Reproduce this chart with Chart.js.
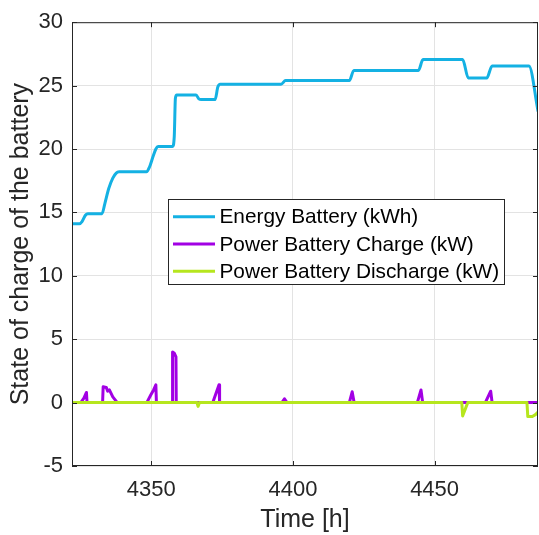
<!DOCTYPE html>
<html>
<head>
<meta charset="utf-8">
<title>Battery state of charge</title>
<script src="https://cdn.jsdelivr.net/npm/chart.js@4.4.1/dist/chart.umd.min.js"></script>
<style>
  html, body { margin: 0; padding: 0; background: #fff; }
  #wrap { width: 539px; height: 535px; }
</style>
</head>
<body>
<div id="wrap"><canvas id="socChart"></canvas></div>
<script>
// Time axis in hours, values read per series
const energyTime = [4322, 4324.6, 4325.6, 4326.8, 4327.6, 4332.6, 4333.6, 4335, 4336.4, 4337.6, 4338.6,
    4348.3, 4349.4, 4350.6, 4351.6, 4352.4, 4357.5, 4358.1, 4358.5, 4359.0, 4365.8, 4366.8, 4367.6,
    4372.5, 4373.5, 4374.3, 4395.8, 4397.4, 4419.9, 4421.5, 4444.3, 4445.9, 4459.9, 4461.9, 4468.4,
    4470.3, 4483.3, 4486.5];
const energyValue = [14.1, 14.1, 14.3, 14.8, 14.9, 14.9, 15.7, 16.9, 17.7, 18.1, 18.2,
    18.2, 18.6, 19.4, 20.0, 20.2, 20.2, 21.0, 24.0, 24.25, 24.25, 23.95, 23.9,
    23.9, 24.9, 25.1, 25.1, 25.4, 25.4, 26.2, 26.2, 27.05, 27.05, 25.6, 25.6,
    26.55, 26.55, 23.0];

const chargeTime = [4322, 4325.1, 4326.2, 4327.1, 4327.3, 4332.8, 4333.0, 4334.1, 4334.6, 4335.2, 4336.4,
    4338.0, 4348.4, 4349.8, 4350.8, 4351.6, 4351.8, 4357.4, 4357.5, 4358.1, 4358.7, 4358.8, 4371.7,
    4373.9, 4374.1, 4396.1, 4397.0, 4397.9, 4419.9, 4420.9, 4421.6, 4443.9, 4445.2, 4445.8, 4467.9,
    4469.8, 4470.3, 4486.5];
const chargeValue = [0, 0, 0.35, 0.8, 0, 0, 1.25, 1.2, 0.9, 1.0, 0.45,
    0, 0, 0.6, 1.0, 1.4, 0, 0, 4.0, 3.9, 3.6, 0, 0,
    1.4, 0, 0, 0.3, 0, 0, 0.85, 0, 0, 1.0, 0, 0,
    0.9, 0, 0];

const dischargeTime = [4322, 4366.1, 4366.5, 4367.0, 4459.6, 4459.9, 4461.7, 4482.6, 4482.9, 4484.5, 4485.6, 4486.5];
const dischargeValue = [0, 0, -0.3, 0, 0, -1.05, 0, 0, -1.1, -1.1, -0.95, -0.75];

const seriesLabels = ["Energy Battery (kWh)", "Power Battery Charge (kW)", "Power Battery Discharge (kW)"];
const seriesColors = ["#14b1e3", "#a200e4", "#b6e61e"];

const xTickValues = [4350, 4400, 4450];
const yTickValues = [-5, 0, 5, 10, 15, 20, 25, 30];

const toPoints = (xs, ys) => xs.map((t, i) => ({ x: t, y: ys[i] }));

const fontFamily = "'Liberation Sans', Arial, Helvetica, sans-serif";
const textColor = "#262626";

// axes box with inward ticks on all four sides, plus the boxed legend
const axesBox = {
    id: "axesBox",
    afterDatasetsDraw(chart) {
        const { ctx, chartArea: a, scales } = chart;
        const tl = 5;
        ctx.save();
        ctx.strokeStyle = "#262626";
        ctx.lineWidth = 1;
        ctx.beginPath();
        xTickValues.forEach(v => {
            const px = Math.round(scales.x.getPixelForValue(v)) + 0.5;
            ctx.moveTo(px, a.bottom); ctx.lineTo(px, a.bottom - tl);
            ctx.moveTo(px, a.top); ctx.lineTo(px, a.top + tl);
        });
        yTickValues.forEach(v => {
            const py = Math.round(scales.y.getPixelForValue(v)) + 0.5;
            ctx.moveTo(a.left, py); ctx.lineTo(a.left + tl, py);
            ctx.moveTo(a.right, py); ctx.lineTo(a.right - tl, py);
        });
        ctx.stroke();
        ctx.strokeRect(a.left + 0.5, a.top + 0.5, a.right - a.left - 1, a.bottom - a.top - 1);

        // legend
        const box = { left: 168.5, top: 199.5, width: 336, height: 85 };
        ctx.fillStyle = "#fff";
        ctx.fillRect(box.left, box.top, box.width, box.height);
        ctx.strokeRect(box.left, box.top, box.width, box.height);
        ctx.font = "20.8px " + fontFamily;
        ctx.textBaseline = "middle";
        ctx.textAlign = "left";
        chart.data.datasets.forEach((ds, i) => {
            const yc = 216.7 + i * 27.3;
            ctx.strokeStyle = ds.borderColor;
            ctx.lineWidth = 3;
            ctx.beginPath();
            ctx.moveTo(173, yc); ctx.lineTo(215, yc);
            ctx.stroke();
            ctx.fillStyle = "#000";
            ctx.fillText(ds.label, 219.5, yc + 1);
        });
        ctx.restore();
    }
};

const ctx = document.getElementById("socChart").getContext("2d");

new Chart(ctx, {
    type: "line",
    data: {
        datasets: [
            {
                label: seriesLabels[0],
                data: toPoints(energyTime, energyValue),
                borderColor: seriesColors[0],
                borderWidth: 3,
                cubicInterpolationMode: "monotone",
                order: 3
            },
            {
                label: seriesLabels[1],
                data: toPoints(chargeTime, chargeValue),
                borderColor: seriesColors[1],
                borderWidth: 3,
                tension: 0,
                order: 2
            },
            {
                label: seriesLabels[2],
                data: toPoints(dischargeTime, dischargeValue),
                borderColor: seriesColors[2],
                borderWidth: 3,
                tension: 0,
                order: 1
            }
        ]
    },
    options: {
        animation: false,
        responsive: true,
        maintainAspectRatio: false,
        parsing: false,
        elements: { point: { radius: 0 }, line: { borderJoinStyle: "round", borderCapStyle: "round" } },
        layout: { padding: { top: 16, right: 1, left: 0, bottom: 0 } },
        plugins: { legend: { display: false }, tooltip: { enabled: false } },
        scales: {
            x: {
                type: "linear",
                min: 4322,
                max: 4486.5,
                afterFit: s => { s.height = 69; },
                afterBuildTicks: s => { s.ticks = xTickValues.map(v => ({ value: v })); },
                grid: { color: "#e3e3e3", drawTicks: false },
                border: { display: false },
                ticks: { padding: 11, color: textColor, font: { family: fontFamily, size: 22 },
                    callback: v => String(v) },
                title: { display: true, text: "Time [h]", color: textColor, padding: { top: 0, bottom: 0 },
                    font: { family: fontFamily, size: 25 } }
            },
            y: {
                min: -5,
                max: 30,
                afterFit: s => { s.width = 72; },
                afterBuildTicks: s => { s.ticks = yTickValues.map(v => ({ value: v })); },
                grid: { color: "#e3e3e3", drawTicks: false },
                border: { display: false },
                ticks: { padding: 9, color: textColor, font: { family: fontFamily, size: 22 },
                    callback: v => String(v) },
                title: { display: true, text: "State of charge of the battery", color: textColor,
                    padding: { top: 6, bottom: 0 }, font: { family: fontFamily, size: 25 } }
            }
        }
    },
    plugins: [axesBox]
});
</script>
</body>
</html>
